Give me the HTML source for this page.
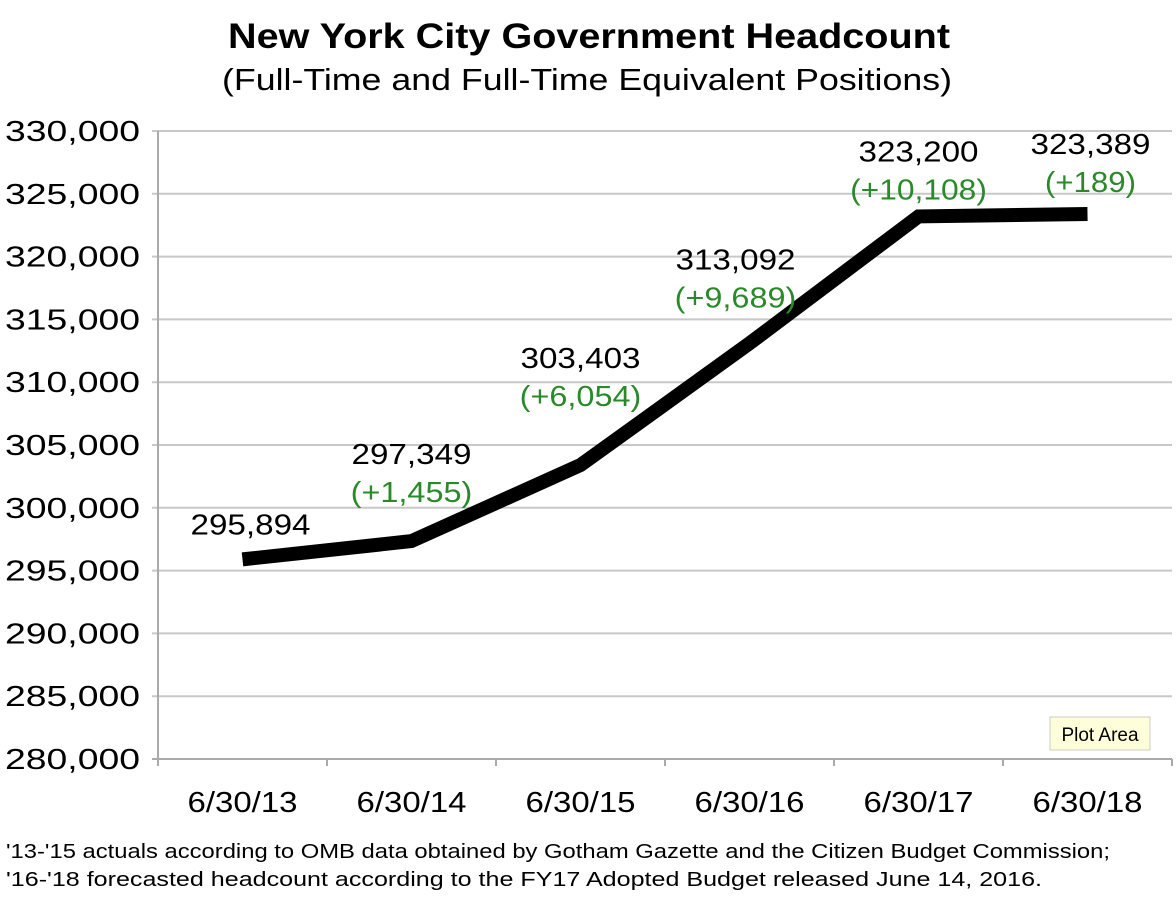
<!DOCTYPE html>
<html><head><meta charset="utf-8"><style>
body{margin:0;background:#fff;width:1176px;height:906px;overflow:hidden;font-family:"Liberation Sans",Arial,sans-serif}
svg{display:block}
</style></head><body>
<svg id="chart" width="1176" height="906" xmlns="http://www.w3.org/2000/svg" font-family="Liberation Sans, Arial, sans-serif">
<text x="589" y="48" text-anchor="middle" font-size="35" font-weight="bold" textLength="722" lengthAdjust="spacingAndGlyphs">New York City Government Headcount</text>
<text x="587" y="90" text-anchor="middle" font-size="31" textLength="730" lengthAdjust="spacingAndGlyphs">(Full-Time and Full-Time Equivalent Positions)</text>
<g id="grid"></g><g id="yticks"></g><g id="xticks"></g><g id="series"></g><g id="labels"></g>
<g>
<rect x="1050" y="717" width="100" height="33" fill="#fefed8" stroke="#ccc"/>
<text x="1100" y="741" text-anchor="middle" font-size="19">Plot Area</text></g>
<text x="6" y="858" font-size="20" textLength="1104" lengthAdjust="spacingAndGlyphs">'13-'15 actuals according to OMB data obtained by Gotham Gazette and the Citizen Budget Commission;</text>
<text x="6" y="886" font-size="20" textLength="1036" lengthAdjust="spacingAndGlyphs">'16-'18 forecasted headcount according to the FY17 Adopted Budget released June 14, 2016.</text>
</svg>
<script>
const categories=["6/30/13","6/30/14","6/30/15","6/30/16","6/30/17","6/30/18"];
const values=[295894,297349,303403,313092,323200,323389];
const changes=["","(+1,455)","(+6,054)","(+9,689)","(+10,108)","(+189)"];
const yTicks=[280000,285000,290000,295000,300000,305000,310000,315000,320000,325000,330000];
const x0=158,x1=1172,yTop=131,yBot=759,yMin=280000,yMax=330000;
const band=(x1-x0)/categories.length;
const X=i=>x0+band*(i+0.5);
const Y=v=>yBot-(v-yMin)/(yMax-yMin)*(yBot-yTop);
const NS="http://www.w3.org/2000/svg";
function mk(t,a,p){const e=document.createElementNS(NS,t);for(const k in a)e.setAttribute(k,a[k]);p.appendChild(e);return e;}
const grid=document.getElementById('grid'),yt=document.getElementById('yticks'),xt=document.getElementById('xticks'),se=document.getElementById('series'),lb=document.getElementById('labels');
yTicks.forEach(v=>{
 const l=mk('line',{x1:x0-6,x2:x1,y1:Y(v),y2:Y(v),stroke:v===yMin?'#aaa':'#c8c8c8','stroke-width':2},grid);
 
 
 const t=mk('text',{x:140,y:Y(v)+10,'text-anchor':'end','font-size':29,textLength:135,lengthAdjust:'spacingAndGlyphs'},yt);
 t.textContent=v.toLocaleString('en-US');
 
 
});
const ax=mk('line',{x1:x0,x2:x0,y1:yTop,y2:yBot+6,stroke:'#aaa','stroke-width':2},grid);


for(let i=0;i<=categories.length;i++){
 const tk=mk('line',{x1:x0+band*i,x2:x0+band*i,y1:yBot,y2:yBot+7,stroke:'#aaa','stroke-width':2},grid);
 
 
}
categories.forEach((c,i)=>{
 const t=mk('text',{x:X(i),y:812,'text-anchor':'middle','font-size':29,textLength:110,lengthAdjust:'spacingAndGlyphs'},xt);
 t.textContent=c;
 
 
});
const pl=mk('polyline',{points:values.map((v,i)=>X(i)+','+Y(v)).join(' '),fill:'none',stroke:'#000','stroke-width':14,'stroke-linejoin':'miter'},se);


const dx=[8,0,0,-14,0,3],dy=[-25,-77,-97,-74,-55,-60];
values.forEach((v,i)=>{
 const px=X(i)+dx[i],py=Y(v)+dy[i];
 const t=mk('text',{x:px,y:py,'text-anchor':'middle','font-size':29,textLength:120,lengthAdjust:'spacingAndGlyphs'},lb);
 t.textContent=v.toLocaleString('en-US');
 
 
 if(changes[i]){
  const g=mk('text',{x:px,y:py+38,'text-anchor':'middle','font-size':29,fill:'#2a8a2a',textLength:changes[i].length*15.2,lengthAdjust:'spacingAndGlyphs'},lb);
  g.textContent=changes[i];
  
  
 }
});
</script>
</body></html>
